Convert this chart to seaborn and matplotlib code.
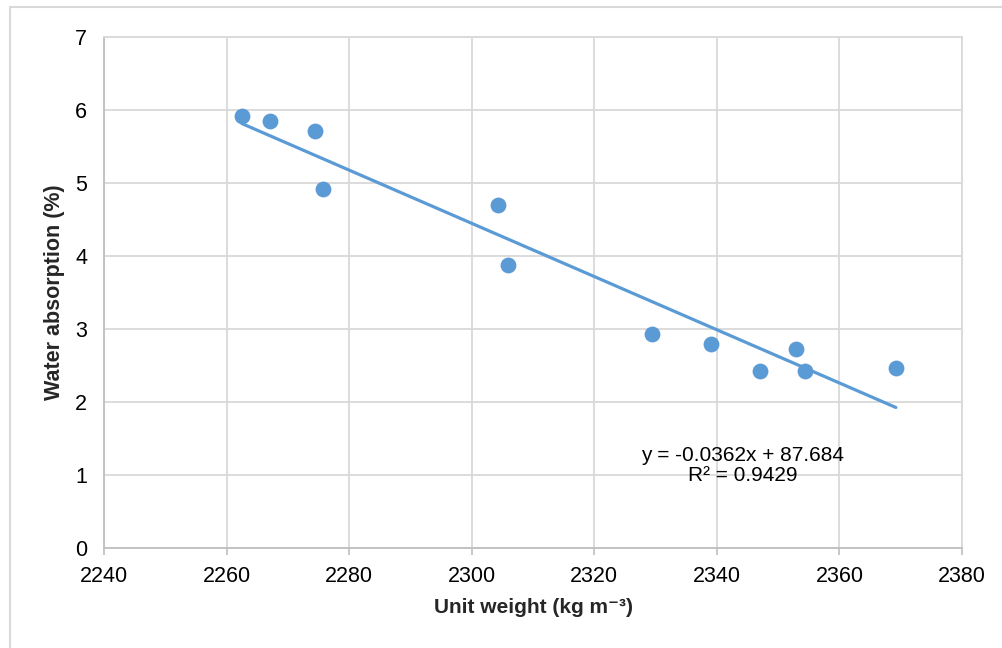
import numpy as np
import pandas as pd
import matplotlib
matplotlib.use('Agg')
import matplotlib.pyplot as plt
import seaborn as sns
from matplotlib.patches import Rectangle

# Valores
unit_weight = [2262.5, 2267.1, 2274.4, 2275.7, 2304.3, 2305.9,
               2329.4, 2339.0, 2347.0, 2352.9, 2354.4, 2369.2]
water_absorption = [5.92, 5.85, 5.71, 4.92, 4.70, 3.88,
                    2.93, 2.79, 2.42, 2.73, 2.42, 2.47]
x_ticks = [2240, 2260, 2280, 2300, 2320, 2340, 2360, 2380]
y_ticks = [0, 1, 2, 3, 4, 5, 6, 7]
eq_text = "y = -0.0362x + 87.684\nR² = 0.9429"

df = pd.DataFrame({'unit_weight': unit_weight, 'water_absorption': water_absorption})

sns.set_theme(style="white")
plt.rcParams['font.family'] = ['Liberation Sans', 'DejaVu Sans']

color = '#5B9BD5'
grid_color = '#D9D9D9'

fig = plt.figure(figsize=(10.03, 6.48), dpi=100)
ax = fig.add_axes([0.1037, 0.1543, 0.8555, 0.7886])

sns.regplot(
    data=df, x='unit_weight', y='water_absorption', ax=ax, ci=None,
    color=color,
    scatter_kws={'s': 130, 'alpha': 1, 'linewidths': 0, 'zorder': 3},
    line_kws={'lw': 2.3, 'zorder': 2},
)

ax.set_xlim(2240, 2380)
ax.set_ylim(0, 7)
ax.set_xticks(x_ticks)
ax.set_yticks(y_ticks)
ax.tick_params(axis='both', labelsize=15.5, colors='black')
ax.tick_params(axis='x', bottom=True, length=5, color='#BFBFBF', width=1.2, pad=8)
ax.tick_params(axis='y', left=False, length=0, pad=12)
ax.grid(True, color=grid_color, lw=1.3)
ax.set_axisbelow(True)
for side in ['top', 'right']:
    ax.spines[side].set_color(grid_color)
    ax.spines[side].set_linewidth(1.3)
for side in ['left', 'bottom']:
    ax.spines[side].set_color('#BFBFBF')
    ax.spines[side].set_linewidth(1.3)

ax.set_xlabel('Unit weight (kg m⁻³)', fontsize=15, fontweight='bold', labelpad=8)
ax.set_ylabel('Water absorption (%)', fontsize=15.5, fontweight='bold', labelpad=7)

ax.text(2344.2, 1.13, eq_text, ha='center', va='center', fontsize=15,
        linespacing=1.1, color='black')

# marco exterior del gráfico
fig.patches.append(Rectangle((10 / 1003, -0.1), 1.2, 1.1 - 7 / 648,
                             transform=fig.transFigure, fill=False,
                             edgecolor=grid_color, lw=1.5))

plt.savefig('out.png', dpi=100)
plt.close()
